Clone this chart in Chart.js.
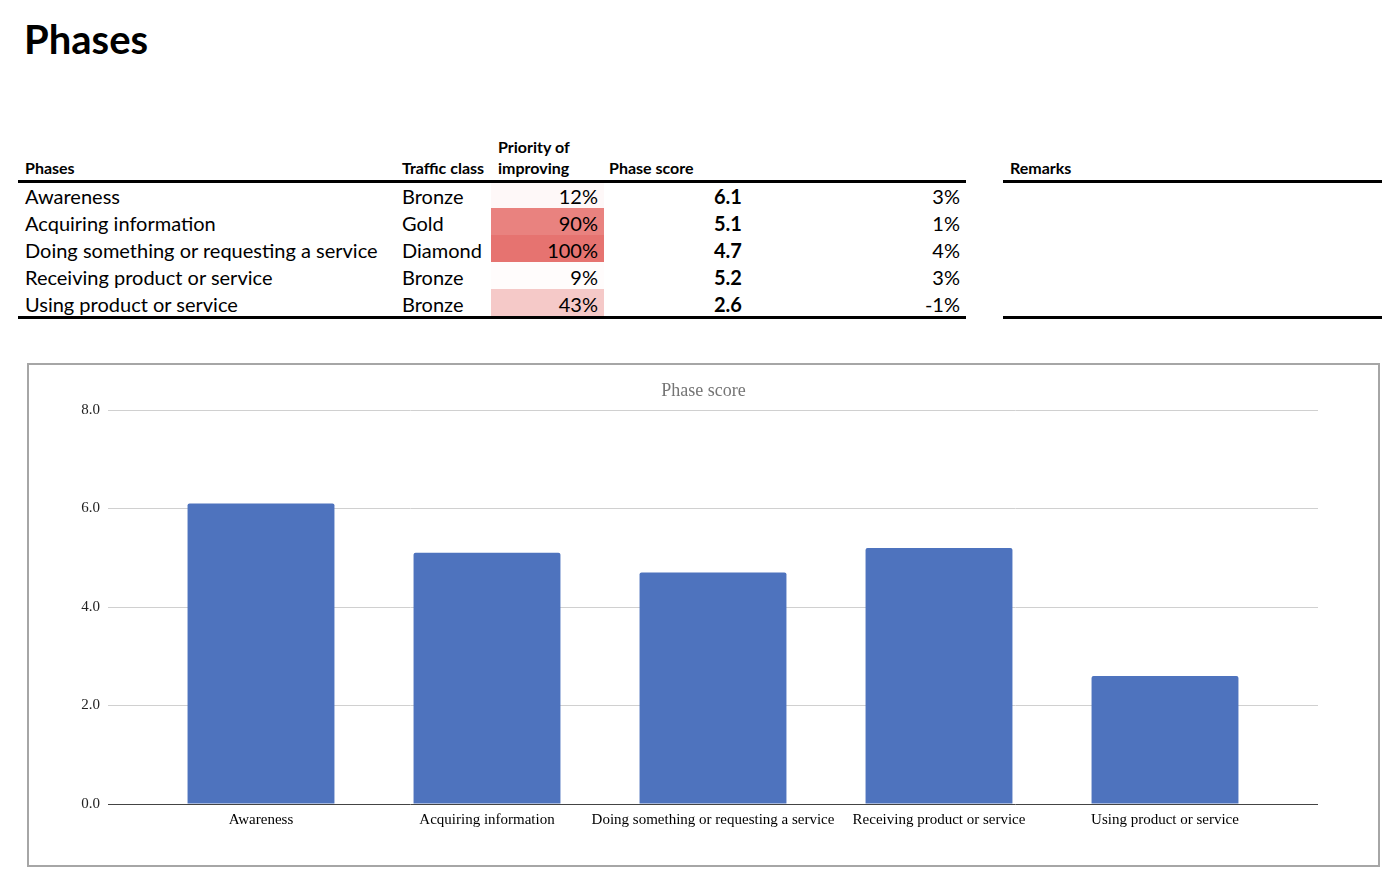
<!DOCTYPE html>
<html>
<head>
<meta charset="utf-8">
<script src="https://cdn.jsdelivr.net/npm/chart.js@4.4.1/dist/chart.umd.min.js"></script>
<style>
  html, body { margin:0; padding:0; background:#fff; }
  body { width:1400px; height:890px; position:relative; overflow:hidden; font-family:Lato, "Open Sans", sans-serif; color:#000; }
  .abs { position:absolute; white-space:nowrap; }
  #title { left:24px; top:14px; font-size:40px; font-weight:bold; line-height:50px; }
  .hdr { font-size:16px; font-weight:bold; line-height:21px; }
  .cell { font-size:20px; line-height:27px; height:27px; }
  .rule { position:absolute; height:3px; background:#000; }
  #chartBox { position:absolute; left:27px; top:363px; width:1353px; height:504px; box-sizing:border-box; border:2px solid #a6a6a6; }
  #chartBox canvas { position:absolute; left:0; top:0; }
</style>
</head>
<body>
<div id="title" class="abs">Phases</div>
<div id="table"></div>
<div id="chartBox"><canvas id="c" width="1349" height="500"></canvas></div>
<script>
// ---- data ----
const phases = ["Awareness", "Acquiring information", "Doing something or requesting a service", "Receiving product or service", "Using product or service"];
const trafficClass = ["Bronze", "Gold", "Diamond", "Bronze", "Bronze"];
const priority = [12, 90, 100, 9, 43];
const phaseScore = [6.1, 5.1, 4.7, 5.2, 2.6];
const change = [3, 1, 4, 3, -1];
const yTicks = [0, 2, 4, 6, 8];
const chartTitle = "Phase score";

// ---- table ----
const table = document.getElementById('table');
function add(html, cls, style) {
  const d = document.createElement('div');
  d.className = 'abs ' + cls;
  d.innerHTML = html;
  Object.assign(d.style, style);
  table.appendChild(d);
  return d;
}
add('Phases', 'hdr', {left:'25px', top:'157px'});
add('Traffic class', 'hdr', {left:'402px', top:'157px'});
add('Priority of<br>improving', 'hdr', {left:'498px', top:'136px'});
add('Phase score', 'hdr', {left:'609px', top:'157px'});
add('Remarks', 'hdr', {left:'1010px', top:'157px'});
function rule(l, w, t) {
  const r = document.createElement('div'); r.className = 'rule';
  Object.assign(r.style, {left:l+'px', width:w+'px', top:t+'px'}); table.appendChild(r);
}
rule(18, 948, 180); rule(18, 948, 316); rule(1003, 379, 180); rule(1003, 379, 316);

const pMin = Math.min(...priority), pMax = Math.max(...priority);
function heat(v) {
  const t = 0.02 + 0.98 * (v - pMin) / (pMax - pMin);
  const lo = [255, 255, 255], hi = [230, 115, 112];
  const c = lo.map((l, k) => Math.round(l + (hi[k] - l) * t));
  return `rgb(${c[0]},${c[1]},${c[2]})`;
}
phases.forEach((p, i) => {
  const top = 181 + 27 * i;
  const txtTop = (top + 2) + 'px';
  add(p, 'cell', {left:'25px', top:txtTop});
  add(trafficClass[i], 'cell', {left:'402px', top:txtTop});
  add('', 'cell', {left:'491px', top: (top + (i===0?2:0)) + 'px', width:'113px', height: (i===0?25:27)+'px', background: heat(priority[i])});
  add(priority[i] + '%', 'cell', {left:'491px', top:txtTop, width:'107px', textAlign:'right'});
  add(phaseScore[i].toFixed(1), 'cell', {left:'680px', top:txtTop, width:'96px', textAlign:'center', fontWeight:'bold'});
  add(change[i] + '%', 'cell', {left:'860px', top:txtTop, width:'100px', textAlign:'right'});
});

// ---- chart ----
const pad = 40 / 226;
new Chart(document.getElementById('c'), {
  type: 'bar',
  data: {
    datasets: [{
      label: chartTitle,
      data: phases.map((p, i) => ({x: i, y: phaseScore[i]})),
      backgroundColor: '#4e73be',
      borderRadius: 2,
      borderSkipped: 'bottom',
      categoryPercentage: 1,
      barPercentage: 0.65
    }]
  },
  options: {
    responsive: false,
    animation: false,
    layout: { padding: 0 },
    plugins: {
      legend: { display: false },
      tooltip: { enabled: false },
      title: {
        display: true, text: chartTitle, color: '#757575',
        font: { family: 'Liberation Serif', size: 18, weight: 'normal' },
        padding: { top: 15, bottom: 8.4 }
      }
    },
    scales: {
      x: {
        type: 'linear',
        offset: false,
        min: -0.5 - pad,
        max: phases.length - 0.5 + pad,
        grid: { display: false, drawTicks: false },
        border: { display: false },
        afterBuildTicks: s => { s.ticks = phases.map((p, i) => ({ value: i })); },
        afterFit: s => { s.height = 61; },
        ticks: {
          autoSkip: false, maxRotation: 0, padding: 7, color: '#000',
          font: { family: 'Liberation Serif', size: 15 },
          callback: v => phases[v]
        }
      },
      y: {
        min: 0, max: 8,
        afterBuildTicks: s => { s.ticks = yTicks.map(v => ({ value: v })); },
        afterFit: s => { s.width = 79; },
        border: { display: false },
        grid: {
          drawTicks: false,
          color: ctx => ctx.tick && ctx.tick.value === 0 ? '#444' : '#d0d0d0',
          lineWidth: 1
        },
        ticks: {
          padding: 8, color: '#222',
          font: { family: 'Liberation Serif', size: 15 },
          callback: v => Number(v).toFixed(1)
        }
      },
      yRight: {
        position: 'right',
        display: true,
        grid: { display: false, drawTicks: false },
        border: { display: false },
        ticks: { display: false },
        afterFit: s => { s.width = 60; }
      }
    }
  }
});
</script>
</body>
</html>
